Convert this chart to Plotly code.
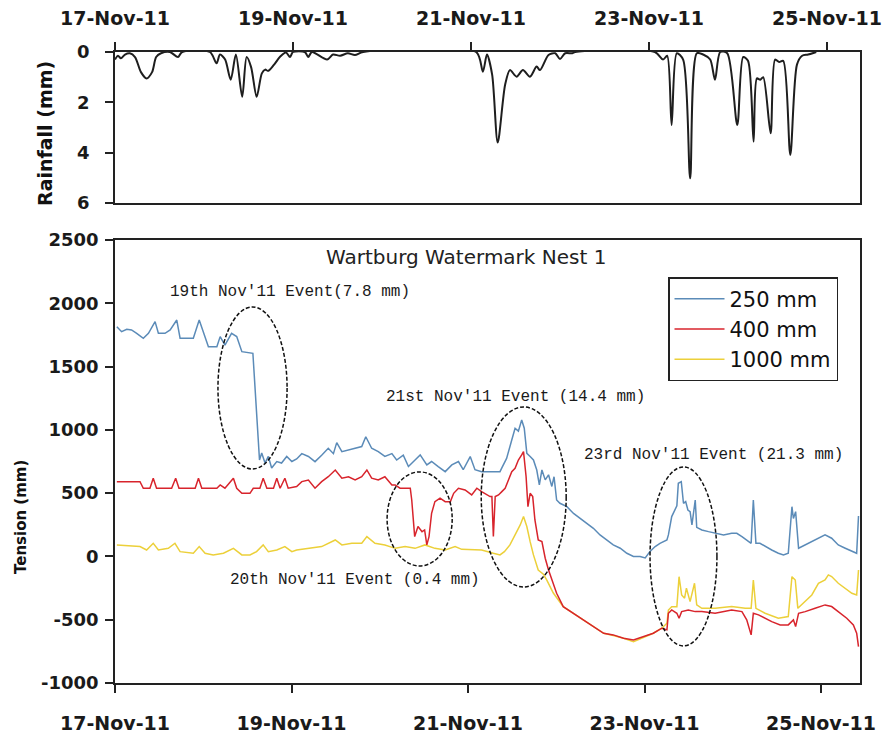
import pandas as pd
import plotly.graph_objects as go

START = pd.Timestamp("2011-11-17 00:00")

# ---- Rainfall (hours after 17-Nov-11 00:00, mm) ----
rain_hours = [0, 0.8, 1.6, 2.7, 4.0, 5.4, 7.0, 8.5, 10.0, 11.1,
              12.4, 14.8, 17.0, 18.1, 25.6, 27.4, 28.3, 29.7, 31.2, 32.6,
              34.3, 35.5, 36.7, 38.2, 39.6, 40.5, 41.3, 42.9, 44.5, 46.1,
              47.2, 48.0, 51.2, 52.1, 53.1, 57.2, 58.8, 60.7, 62.8, 64.7,
              66.9, 97.4, 99.2, 100.3, 101.7, 103.2, 105.2, 106.5, 108.3, 110.0,
              111.9, 113.7, 114.6, 116.9, 118.7, 120.0, 121.4, 123.3, 124.1, 145.6,
              147.8, 148.9, 150.1, 151.5, 153.2, 155.1, 156.9, 158.6, 160.5, 161.8,
              163.2, 165.1, 167.8, 169.4, 170.7, 172.2, 173.1, 174.0, 174.8, 176.8,
              178.0, 179.1, 180.2, 182.1, 183.9, 185.3, 186.9, 189.1]
rain_mm = [0.3, 0.15, 0.25, 0.1, 0.05, 0.2, 0.8, 1.05, 0.8, 0.2,
           0.05, 0, 0.2, 0, 0, 0.45, 0.1, 0.3, 1.1, 0.1,
           1.78, 0.2, 0.6, 1.78, 0.85, 0.7, 0.75, 0.5, 0.19, 0.02,
           0.2, 0, 0, 0.2, 0, 0.3, 0.1, 0.15, 0.05, 0.12,
           0, 0, 0.78, 0.1, 0.9, 3.6, 1.3, 0.72, 0.98, 0.72,
           0.98, 0.58, 0.72, 0.12, 0.05, 0.28, 0.05, 0.05, 0, 0,
           0.3, 0.15, 2.9, 0.05, 0.3, 5.02, 0.05, 0.1, 0.3, 1.1,
           0, 0.05, 2.9, 0.2, 0.35, 3.56, 1.05, 1.1, 1.0, 3.23,
           0.3, 0.4, 0.35, 4.09, 0.5, 0.15, 0.1, 0]

# ---- Soil tension at 250 mm depth ----
t250_hours = [0.5, 1.8, 3.2, 4.5, 5.9, 7.7, 9.1, 10.9, 11.8, 13.6,
              15.0, 16.8, 17.7, 21.3, 22.9, 24.5, 25.4, 27.7, 28.6, 29.9,
              31.7, 33.1, 34.5, 37.5, 38.5, 39.3, 39.9, 40.8, 41.7, 42.6,
              44.0, 45.3, 46.7, 48.1, 49.4, 50.8, 52.6, 54.4, 56.2, 58.0,
              59.4, 60.3, 61.7, 63.5, 65.3, 67.1, 68.2, 69.8, 71.6, 73.4,
              75.3, 76.6, 78.4, 79.8, 81.6, 83.0, 84.8, 86.1, 87.9, 89.8,
              91.6, 93.4, 94.7, 96.6, 97.9, 99.7, 102.0, 104.7, 105.2, 106.5,
              107.9, 108.8, 109.7, 110.6, 111.3, 112.0, 112.9, 113.8, 114.7, 115.4,
              116.1, 117.0, 117.9, 118.8, 119.4, 120.1, 121.0, 122.9, 124.7, 126.5,
              128.3, 130.1, 131.9, 133.7, 135.5, 137.4, 139.2, 141.0, 142.8, 144.2,
              145.5, 146.9, 148.2, 150.1, 150.5, 151.4, 152.8, 153.2, 154.0, 154.6,
              155.2, 155.8, 156.4, 156.9, 157.8, 158.2, 159.6, 161.4, 163.2, 165.5,
              167.7, 169.1, 170.5, 171.8, 173.0, 173.6, 174.3, 175.4, 176.8, 178.6,
              180.4, 181.8, 183.1, 184.1, 184.5, 185.1, 185.9, 187.7, 189.5, 191.3,
              193.1, 194.9, 196.7, 198.6, 200.4, 201.7, 202.2]
t250_mm = [1815, 1776, 1795, 1790, 1763, 1724, 1763, 1855, 1763, 1763,
           1790, 1868, 1724, 1724, 1868, 1724, 1657, 1657, 1737, 1670,
           1763, 1737, 1618, 1605, 1078, 762, 817, 738, 790, 699,
           750, 738, 790, 750, 770, 812, 790, 749, 800, 855,
           812, 899, 828, 840, 855, 868, 946, 855, 828, 790,
           812, 762, 800, 710, 762, 802, 723, 750, 710, 670,
           723, 750, 685, 789, 685, 670, 670, 670, 700, 775,
           920, 1013, 990, 1078, 1013, 815, 790, 762, 683, 565,
           683, 605, 645, 553, 630, 446, 420, 393, 340, 302,
           262, 222, 170, 130, 91, 65, 25, 0, 0, -12,
           40, 78, 104, 130, 170, 315, 400, 578, 591, 420,
           433, 367, 354, 249, 446, 230, 209, 196, 183, 170,
           183, 183, 157, 130, 104, 446, 104, 104, 78, 51,
           25, 12, 25, 393, 300, 354, 65, 91, 117, 144,
           170, 144, 91, 65, 38, 25, 320]

# ---- Soil tension at 400 mm depth ----
t400_hours = [0.5, 6.8, 7.7, 9.5, 10.4, 11.3, 15.4, 16.5, 17.4, 21.8,
              22.7, 23.6, 27.7, 28.6, 29.9, 32.2, 33.1, 34.5, 36.7, 37.6,
              39.4, 40.3, 41.3, 43.1, 44.0, 44.9, 46.2, 47.1, 49.4, 50.8,
              52.6, 54.4, 56.2, 58.0, 59.9, 61.7, 63.5, 65.3, 67.1, 68.5,
              69.8, 71.6, 73.4, 75.3, 76.2, 77.5, 80.3, 80.7, 81.5, 82.4,
              83.5, 84.2, 84.8, 85.4, 86.1, 87.0, 88.4, 89.8, 91.2, 92.1,
              93.4, 95.2, 97.0, 98.4, 99.7, 102.0, 102.5, 102.9, 103.4, 104.3,
              105.2, 106.1, 107.0, 107.9, 108.8, 109.7, 110.6, 111.1, 111.8, 112.3,
              112.9, 113.6, 114.2, 115.1, 116.1, 117.0, 117.9, 118.8, 120.1, 121.9,
              124.7, 127.4, 130.1, 132.9, 135.5, 138.3, 141.0, 143.7, 146.4, 148.7,
              150.1, 150.5, 151.4, 152.8, 153.4, 154.1, 155.9, 157.8, 159.6, 163.2,
              167.7, 170.5, 171.8, 173.0, 173.6, 175.0, 176.8, 178.6, 180.9, 183.1,
              184.5, 185.1, 185.9, 187.7, 190.4, 193.1, 194.9, 196.7, 199.0, 200.8,
              201.7, 202.2]
t400_mm = [591, 591, 539, 539, 618, 539, 539, 618, 539, 539,
           618, 539, 539, 565, 539, 618, 539, 499, 499, 539,
           539, 618, 539, 539, 618, 539, 618, 539, 552, 591,
           604, 539, 591, 630, 683, 618, 630, 604, 630, 683,
           618, 604, 630, 565, 565, 539, 539, 446, 157, 236,
           196, 209, 91, 157, 341, 433, 460, 433, 433, 499,
           539, 525, 486, 539, 512, 473, 473, 157, 473, 486,
           512, 539, 604, 670, 696, 762, 802, 828, 630, 393,
           499, 473, 288, 130, 117, -14, -107, -186, -291, -397,
           -449, -502, -555, -607, -620, -646, -660, -633, -607, -567,
           -580, -449, -423, -449, -488, -436, -423, -436, -436, -449,
           -423, -436, -501, -620, -449, -462, -488, -515, -541, -541,
           -501, -554, -449, -436, -410, -383, -396, -436, -488, -541,
           -607, -712]

# ---- Soil tension at 1000 mm depth ----
t1000_hours = [0.5, 6.8, 8.6, 10.4, 11.8, 14.5, 16.3, 17.7, 21.3, 22.9,
               24.5, 26.7, 29.5, 32.2, 34.5, 36.7, 38.5, 40.3, 41.7, 44.0,
               46.2, 48.1, 49.4, 52.6, 56.2, 59.9, 61.7, 64.4, 67.1, 68.5,
               70.7, 73.4, 76.2, 78.9, 81.6, 84.3, 87.0, 89.8, 92.5, 94.3,
               97.9, 99.7, 102.9, 104.7, 105.9, 107.4, 108.8, 110.2, 111.1, 112.0,
               112.9, 113.8, 115.1, 116.5, 117.4, 118.3, 119.2, 121.9, 124.7, 127.4,
               130.1, 132.9, 135.5, 138.3, 141.0, 143.7, 146.4, 148.7, 150.1, 150.5,
               151.4, 152.8, 153.4, 154.1, 154.9, 155.4, 156.4, 157.6, 158.2, 159.6,
               163.2, 167.7, 171.4, 173.0, 173.6, 174.3, 176.8, 180.4, 183.1, 184.1,
               185.0, 185.7, 187.7, 189.5, 191.3, 193.1, 194.0, 194.9, 196.7, 198.6,
               200.4, 201.7, 202.2]
t1000_mm = [91, 78, 51, 104, 51, 64, 104, 38, 25, 78,
            25, 12, 25, 64, 12, 12, 38, 91, 38, 51,
            78, 38, 51, 64, 78, 130, 91, 104, 104, 157,
            104, 91, 64, 78, 64, 91, 64, 51, 78, 56,
            51, 51, 25, 12, 38, 91, 170, 249, 315, 236,
            117, 12, -107, -140, -186, -238, -289, -397, -449, -502,
            -555, -607, -625, -646, -673, -640, -607, -567, -528, -423,
            -397, -397, -160, -304, -330, -251, -357, -212, -383, -410,
            -410, -396, -410, -410, -186, -410, -449, -488, -475, -160,
            -186, -410, -357, -304, -212, -186, -146, -159, -212, -251,
            -291, -304, -107]

# ---- Rain events: label, ellipse hour span, ellipse tension span ----
event_labels = ["19th Nov'11 Event(7.8 mm)", "20th Nov'11 Event (0.4 mm)",
                "21st Nov'11 Event (14.4 mm)", "23rd Nov'11 Event (21.3 mm)"]
event_hour_span = [(28.0, 46.8), (74.0, 91.7), (99.6, 122.7), (145.5, 163.7)]
event_tension_span = [(1971, 691), (668, -75), (1181, -241), (707, -707)]
# label anchor points (hours, tension)
event_label_hours = [47.6, 65.3, 109.0, 162.7]
event_label_tension = [2090, -190, 1260, 800]

depth_names = ["250 mm", "400 mm", "1000 mm"]
depth_colors = ["#5b8bb8", "#d8242c", "#ecd03a"]

rain_ticks = [0, 2, 4, 6]
tension_ticks = [-1000, -500, 0, 500, 1000, 1500, 2000, 2500]


def to_time(hours):
    return START + pd.to_timedelta(pd.Series(hours, dtype=float), unit="h")


fig = go.Figure()

fig.add_trace(go.Scatter(
    x=to_time(rain_hours), y=rain_mm, mode="lines",
    line=dict(color="#1e1e1e", width=2, shape="spline", smoothing=0.8),
    xaxis="x", yaxis="y", showlegend=False, hoverinfo="skip"))

series = [(t250_hours, t250_mm), (t400_hours, t400_mm), (t1000_hours, t1000_mm)]
draw_order = [0, 2, 1]
for i in draw_order:
    hrs, vals = series[i]
    fig.add_trace(go.Scatter(
        x=to_time(hrs), y=vals, mode="lines", name=depth_names[i],
        line=dict(color=depth_colors[i], width=1.5),
        xaxis="x2", yaxis="y2", legendrank=i + 1))

# event ellipses and labels
for (h0, h1), (v0, v1) in zip(event_hour_span, event_tension_span):
    fig.add_shape(type="circle", xref="x2", yref="y2",
                  x0=START + pd.Timedelta(hours=h0), x1=START + pd.Timedelta(hours=h1),
                  y0=v1, y1=v0,
                  line=dict(color="#111111", width=1.5, dash="4px,2px"))

for text, h, v in zip(event_labels, event_label_hours, event_label_tension):
    fig.add_annotation(x=START + pd.Timedelta(hours=h), y=v, xref="x2", yref="y2",
                       text=text, showarrow=False, xanchor="center", yanchor="middle",
                       font=dict(family="Liberation Mono", size=16, color="#1a1a1a"))

fig.add_annotation(x=(466 - 115) / 745, y=(683 - 257) / 631, xref="paper", yref="paper",
                   text="Wartburg Watermark Nest 1", showarrow=False,
                   xanchor="center", yanchor="middle",
                   font=dict(family="DejaVu Sans", size=20, color="#222222"))

# axis titles
fig.add_annotation(x=(45 - 115) / 745, y=(683 - 134) / 631, xref="paper", yref="paper",
                   text="Rainfall (mm)", textangle=-90, showarrow=False,
                   xanchor="center", yanchor="middle",
                   font=dict(family="DejaVu Sans", size=19, color="#111111", weight="bold"))
fig.add_annotation(x=(21 - 115) / 745, y=(683 - 517) / 631, xref="paper", yref="paper",
                   text="Tension (mm)", textangle=-90, showarrow=False,
                   xanchor="center", yanchor="middle",
                   font=dict(family="DejaVu Sans", size=15, color="#111111", weight="bold"))

tick_font = dict(family="DejaVu Sans", size=18, color="#1a1a1a", weight="bold")
axis_common = dict(showline=True, linecolor="#222222", linewidth=1.5, mirror=True,
                   ticks="outside", ticklen=8, tickwidth=1.5, tickcolor="#222222",
                   showgrid=False, zeroline=False, automargin=False)
date_axis = dict(type="date", tickformat="%d-%b-%y", dtick=2 * 86400000,
                 tick0="2011-11-17", tickfont=dict(tick_font, size=19))

fig.update_layout(
    width=884, height=733,
    margin=dict(l=115, r=24, t=52, b=50),
    paper_bgcolor="white", plot_bgcolor="white",
    xaxis=dict(domain=[0, 1], anchor="y", side="top",
               range=[START, START + pd.Timedelta(days=745 / 89)],
               ticklabelstandoff=10, **date_axis, **axis_common),
    yaxis=dict(domain=[0.7607, 1], anchor="x", range=[6, 0],
               tickvals=rain_ticks, ticktext=[str(v) for v in rain_ticks],
               ticklabelstandoff=12, tickfont=tick_font, **axis_common),
    xaxis2=dict(domain=[0, 1], anchor="y2", side="bottom",
                range=[START, START + pd.Timedelta(days=745 / 88.25)],
                ticklabelstandoff=14, **date_axis, **axis_common),
    yaxis2=dict(domain=[0, 0.702], anchor="x2", range=[-1000, 2500],
                tickvals=tension_ticks, ticktext=[str(v) for v in tension_ticks],
                ticklabelstandoff=3, tickfont=tick_font, **axis_common),
    legend=dict(x=(668 - 115) / 745, y=(683 - 277) / 631, xanchor="left", yanchor="top",
                bordercolor="#222222", borderwidth=1.5, bgcolor="white",
                font=dict(family="DejaVu Sans", size=21, color="#111111"),
                itemwidth=50, tracegroupgap=0),
    showlegend=True,
)

fig.write_html("out.html")
